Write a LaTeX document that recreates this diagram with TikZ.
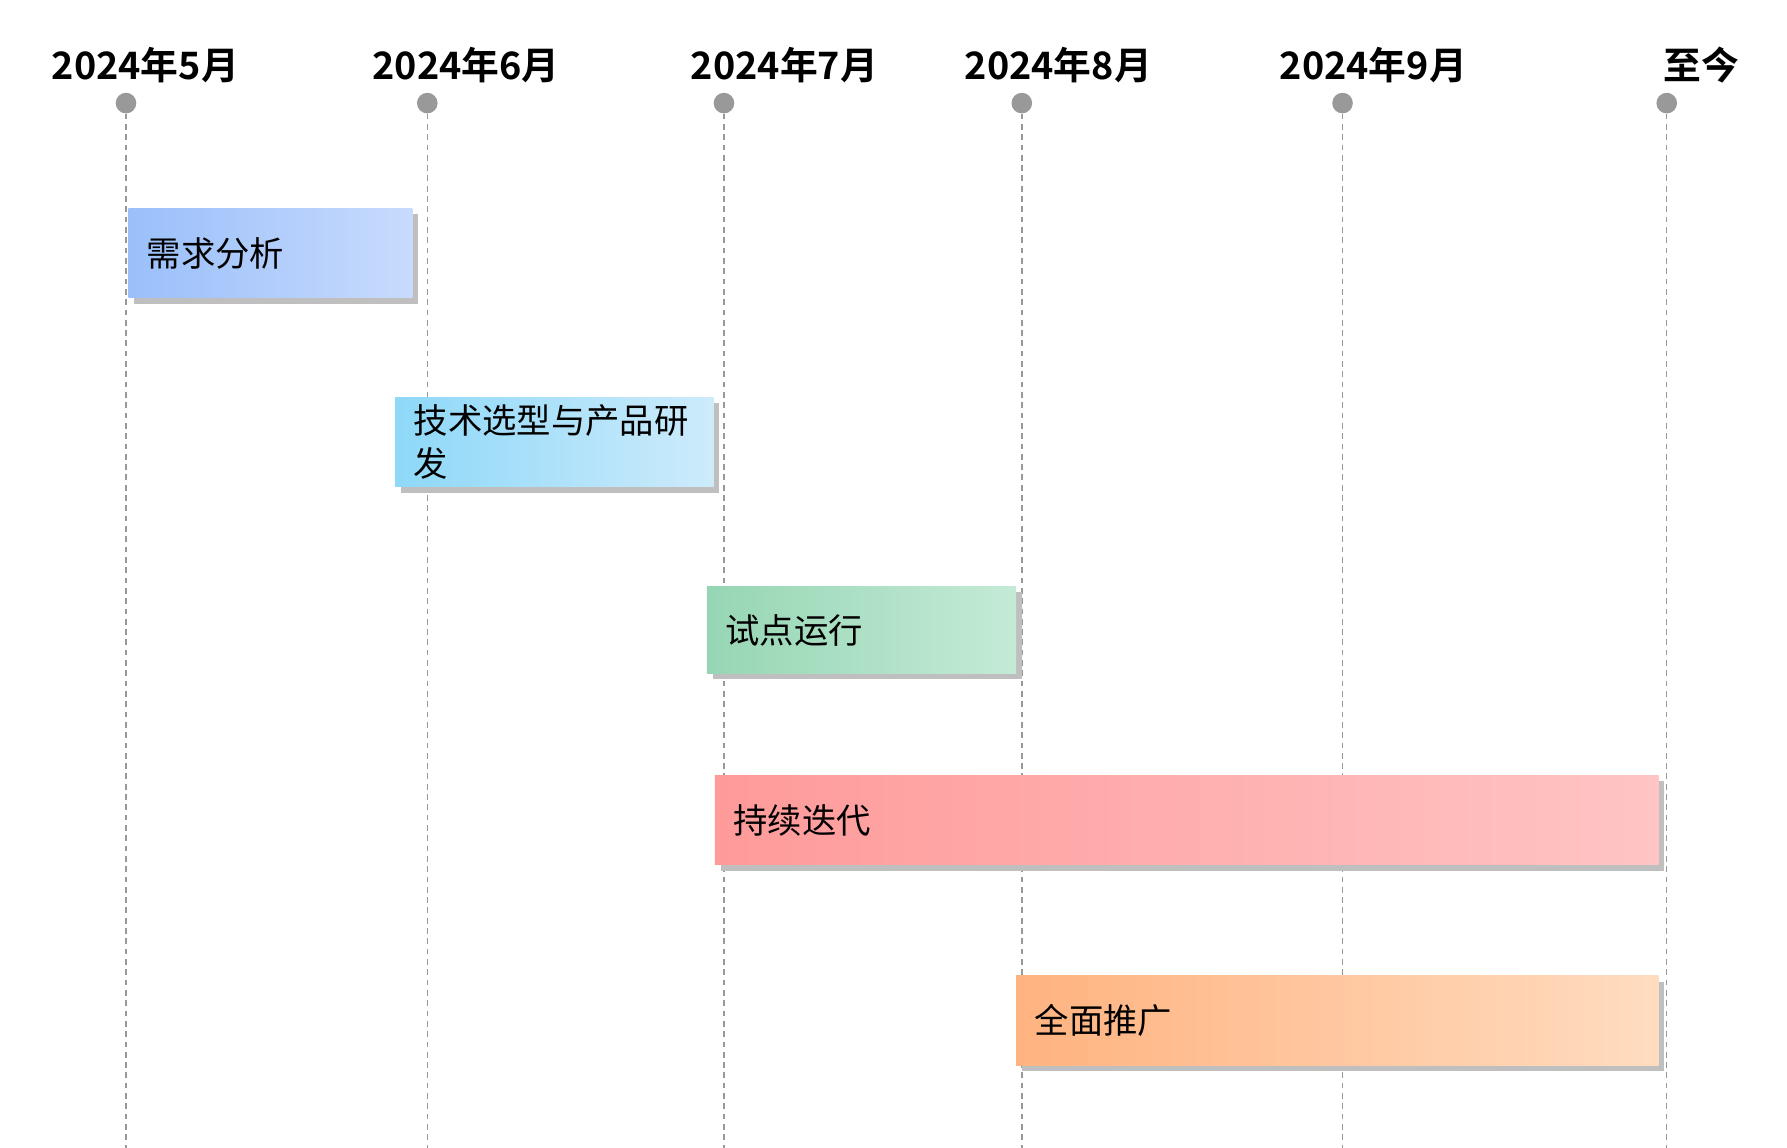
\documentclass[tikz,border=0pt]{standalone}
\usepackage{fontspec}
\newfontfamily\cjk{Noto Sans CJK SC}[BoldFont={Noto Sans CJK SC Bold}]
\begin{document}
\begin{tikzpicture}[x=1pt,y=-1pt,
  dot/.style={circle,fill=gray!80,minimum size=18pt,inner sep=0pt},
  vline/.style={gray!80,dash pattern=on 5pt off 4pt,line width=1.3pt},
  hdr/.style={anchor=west,font=\cjk\bfseries\fontsize{33}{35}\selectfont,inner sep=0pt},
  btxt/.style={anchor=west,align=left,font=\cjk\fontsize{30}{38}\selectfont,inner sep=0pt},
  shadow/.style={fill=black!25}]
\useasboundingbox (0,0) rectangle (1560,1002);
\foreach \n/\x/\lx/\t in {a/110/45/2024年5月,b/373/325/2024年6月,c/632/603/2024年7月,d/892/842/2024年8月,e/1172/1117/2024年9月,f/1455/1452/至今}{
  \node[dot] (\n) at (\x,90) {};
  \coordinate (\n e) at (\x,1002);
  \draw[vline] (\n) -- (\n e);
  \node[hdr] (h\n) at (\lx,57) {\t};
}
\foreach \n/\xa/\ya/\xb/\yb/\ca/\cb in {
  1/112/182/360/260/9ABFFA/C8DBFD,
  2/345/347/623/425/8ED8F8/CDEBFB,
  3/617/512/887/588/96D6B4/C4EAD6,
  4/624/677/1448/755/FF9A9A/FFC4C4,
  5/887/852/1448/930/FFB380/FFDCC0}{
  \definecolor{ca\n}{HTML}{\ca}\definecolor{cb\n}{HTML}{\cb}
  \fill[shadow] (\xa+5,\ya+5) rectangle (\xb+5,\yb+5);
  \path[left color=ca\n,right color=cb\n] (\xa,\ya) rectangle (\xb,\yb);
  \coordinate (bar\n) at (\xa+16,{(\ya+\yb)/2});
}
\node[btxt] (t1) at (bar1) {需求分析};
\node[btxt] (t2) at (bar2) {技术选型与产品研\\发};
\node[btxt] (t3) at (bar3) {试点运行};
\node[btxt] (t4) at (bar4) {持续迭代};
\node[btxt] (t5) at (bar5) {全面推广};
\end{tikzpicture}
\end{document}
